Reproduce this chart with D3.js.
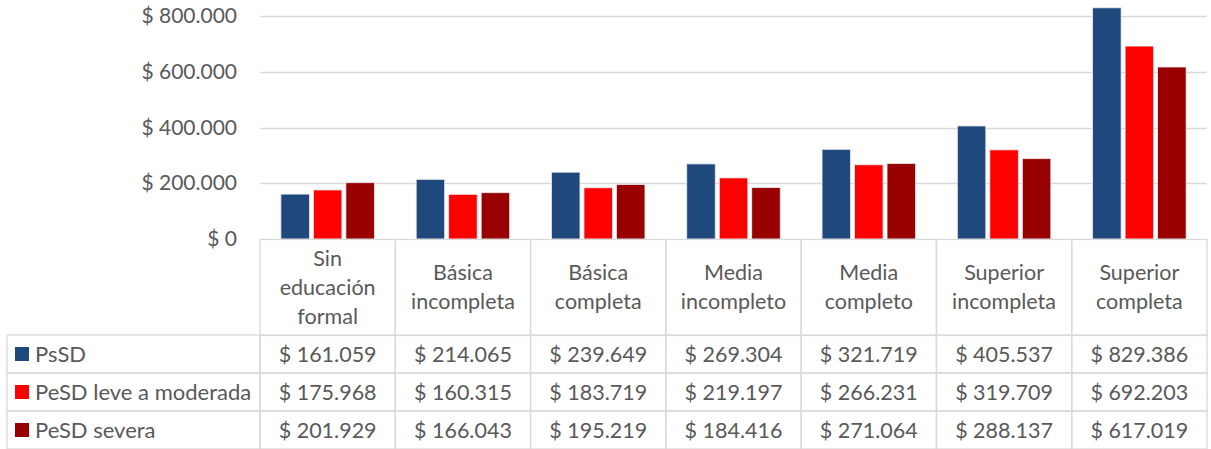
<!DOCTYPE html>
<meta charset="utf-8">
<script src="https://cdn.jsdelivr.net/npm/d3@7/dist/d3.min.js"></script>
<style>
body { margin: 0; background: #fff; }
text { font-family: Lato, "Open Sans", sans-serif; fill: #595959; }
.grid line { stroke: #d9d9d9; stroke-width: 1.3px; }
.cell { stroke: #d9d9d9; stroke-width: 1.3px; fill: none; }
</style>
<body>
<script>

// categories and series
var categories = ["Sin educación formal", "Básica incompleta", "Básica completa",
  "Media incompleto", "Media completo", "Superior incompleta", "Superior completa"];
var categoryLines = [["Sin", "educación", "formal"], ["Básica", "incompleta"], ["Básica", "completa"],
  ["Media", "incompleto"], ["Media", "completo"], ["Superior", "incompleta"], ["Superior", "completa"]];
var seriesNames = ["PsSD", "PeSD leve a moderada", "PeSD severa"];
var seriesColors = ["#1f497d", "#ff0000", "#990000"];
var psSD = [161059, 214065, 239649, 269304, 321719, 405537, 829386];
var peSDLeve = [175968, 160315, 183719, 219197, 266231, 319709, 692203];
var peSDSevera = [201929, 166043, 195219, 184416, 271064, 288137, 617019];
var yTicks = [0, 200000, 400000, 600000, 800000];

var series = [psSD, peSDLeve, peSDSevera];

var width = 1211, height = 449;
var plotLeft = 260, plotRight = 1207, plotTop = 16, plotBottom = 239;
var tableLeft = 7, headerBottom = 335, rowH = 38;
var fs = "21.5px";

var loc = d3.formatLocale({decimal: ",", thousands: ".", grouping: [3], currency: ["$ ", ""]});
var money = loc.format("$,.0f");

var svg = d3.select("body").append("svg")
    .attr("width", width)
    .attr("height", height);

var x0 = d3.scaleBand().domain(categories).range([plotLeft, plotRight]);
var x1 = d3.scaleBand().domain(d3.range(3)).range([0, x0.bandwidth()])
    .paddingInner(0.123).paddingOuter(0.643);
var y = d3.scaleLinear().domain([0, 800000]).range([plotBottom, plotTop]);

// gridlines
svg.append("g").attr("class", "grid")
  .selectAll("line").data(yTicks.slice(1)).enter().append("line")
    .attr("x1", plotLeft).attr("x2", plotRight)
    .attr("y1", function(d) { return Math.round(y(d)) + 0.5; })
    .attr("y2", function(d) { return Math.round(y(d)) + 0.5; });

// y axis labels
var yAxis = d3.axisLeft(y).tickValues(yTicks).tickFormat(money).tickSize(0).tickPadding(23);
var ya = svg.append("g").attr("transform", "translate(" + plotLeft + ",0)").call(yAxis);
ya.select(".domain").remove();
ya.selectAll("text").style("font-size", "21px").attr("fill", "#595959")
  .style("font-family", "Lato, 'Open Sans', sans-serif");

// bars
var groups = svg.append("g").selectAll("g")
    .data(categories).enter().append("g")
    .attr("transform", function(d) { return "translate(" + x0(d) + ",0)"; });

groups.selectAll("rect")
    .data(function(d, i) { return series.map(function(s, k) { return {k: k, v: s[i]}; }); })
    .enter().append("rect")
    .attr("x", function(d) { return x1(d.k); })
    .attr("width", x1.bandwidth())
    .attr("y", function(d) { return y(d.v); })
    .attr("height", function(d) { return y(0) - y(d.v); })
    .attr("fill", function(d) { return seriesColors[d.k]; })
    .attr("stroke", "#e8eaf0")
    .attr("stroke-width", 0.8);

// data table: header row
var tbl = svg.append("g");
categories.forEach(function(c, i) {
  tbl.append("rect").attr("class", "cell")
    .attr("x", x0(c)).attr("y", plotBottom + 0.5)
    .attr("width", x0.bandwidth()).attr("height", headerBottom - plotBottom);
  var lines = categoryLines[i];
  var cy = (plotBottom + headerBottom) / 2;
  lines.forEach(function(l, j) {
    tbl.append("text")
      .attr("x", x0(c) + x0.bandwidth() / 2)
      .attr("y", cy + (j - (lines.length - 1) / 2) * 29)
      .attr("dy", "0.35em")
      .attr("text-anchor", "middle")
      .style("font-size", fs)
      .text(l);
  });
});

// data rows
seriesNames.forEach(function(name, k) {
  var top = headerBottom + k * rowH;
  tbl.append("rect").attr("class", "cell")
    .attr("x", tableLeft).attr("y", top)
    .attr("width", plotLeft - tableLeft).attr("height", rowH);
  tbl.append("rect")
    .attr("x", 15).attr("y", top + rowH / 2 - 7)
    .attr("width", 14).attr("height", 14)
    .attr("fill", seriesColors[k]);
  tbl.append("text")
    .attr("x", 35).attr("y", top + rowH / 2).attr("dy", "0.35em")
    .style("font-size", "22px")
    .text(name);
  categories.forEach(function(c, i) {
    tbl.append("rect").attr("class", "cell")
      .attr("x", x0(c)).attr("y", top)
      .attr("width", x0.bandwidth()).attr("height", rowH);
    tbl.append("text")
      .attr("x", x0(c) + x0.bandwidth() / 2)
      .attr("y", top + rowH / 2).attr("dy", "0.35em")
      .attr("text-anchor", "middle")
      .style("font-size", fs)
      .text(money(series[k][i]));
  });
});

</script>
</body>
